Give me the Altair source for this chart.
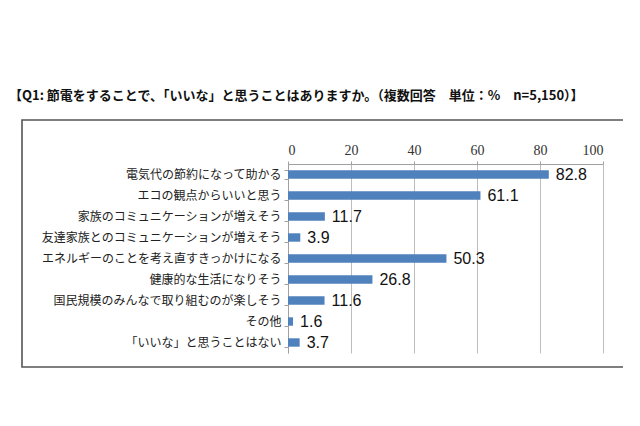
import altair as alt
import pandas as pd

categories = [
    "電気代の節約になって助かる",
    "エコの観点からいいと思う",
    "家族のコミュニケーションが増えそう",
    "友達家族とのコミュニケーションが増えそう",
    "エネルギーのことを考え直すきっかけになる",
    "健康的な生活になりそう",
    "国民規模のみんなで取り組むのが楽しそう",
    "その他",
    "「いいな」と思うことはない",
]
values = [82.8, 61.1, 11.7, 3.9, 50.3, 26.8, 11.6, 1.6, 3.7]
x_ticks = [0, 20, 40, 60, 80, 100]
title_text = "【Q1:  節電をすることで、「いいな」と思うことはありますか。（複数回答　単位：%　n=5,150）】"

df = pd.DataFrame({"cat": categories, "val": values})
df["label"] = [f"{v:.1f}" for v in values]

W, H = 315, 189
JP = "Noto Sans CJK JP"

x_enc = alt.X(
    "val:Q",
    scale=alt.Scale(domain=[0, 100], nice=False),
    axis=alt.Axis(
        orient="top", values=x_ticks, title=None, grid=True,
        gridColor="#bdbdbd", gridWidth=1, domainColor="#a0a0a0",
        tickColor="#a0a0a0", tickSize=3, labelFont="Liberation Serif",
        labelFontSize=14, labelColor="#333333", labelPadding=4,
    ),
)
y_enc = alt.Y(
    "cat:N", sort=categories,
    scale=alt.Scale(paddingInner=0.6, paddingOuter=0.3),
    axis=alt.Axis(
        title=None, tickBand="extent", domainColor="#a0a0a0",
        tickColor="#a0a0a0", tickSize=4, labelFont=JP, labelFontSize=12,
        labelColor="#222222", labelPadding=3, grid=False, labelLimit=400,
    ),
)

box = alt.Chart(pd.DataFrame({"k": [0]})).mark_rect(
    fill=None, stroke="#555555", strokeWidth=1.6
).encode(
    x=alt.value(-266), x2=alt.value(346), y=alt.value(-44), y2=alt.value(203)
)

bars = alt.Chart(df).mark_bar(color="#4F81BD").encode(x=x_enc, y=y_enc)
labels = alt.Chart(df).mark_text(
    align="left", dx=7, font="Liberation Sans", fontSize=16, color="#111111"
).encode(x="val:Q", y=alt.Y("cat:N", sort=categories), text="label:N")

chart = alt.layer(box, bars, labels).properties(
    width=W, height=H,
    padding={"left": 280, "top": 156, "right": 20, "bottom": 40},
    autosize=alt.AutoSizeParams(type="none"),
    title=alt.TitleParams(
        title_text, anchor="start", frame="group", dx=-279, dy=-12,
        font=JP, fontSize=13, fontWeight="bold", color="#111111",
    ),
).configure_view(stroke=None)

chart.save("out.html", embed_options={"renderer": "svg", "actions": False})
